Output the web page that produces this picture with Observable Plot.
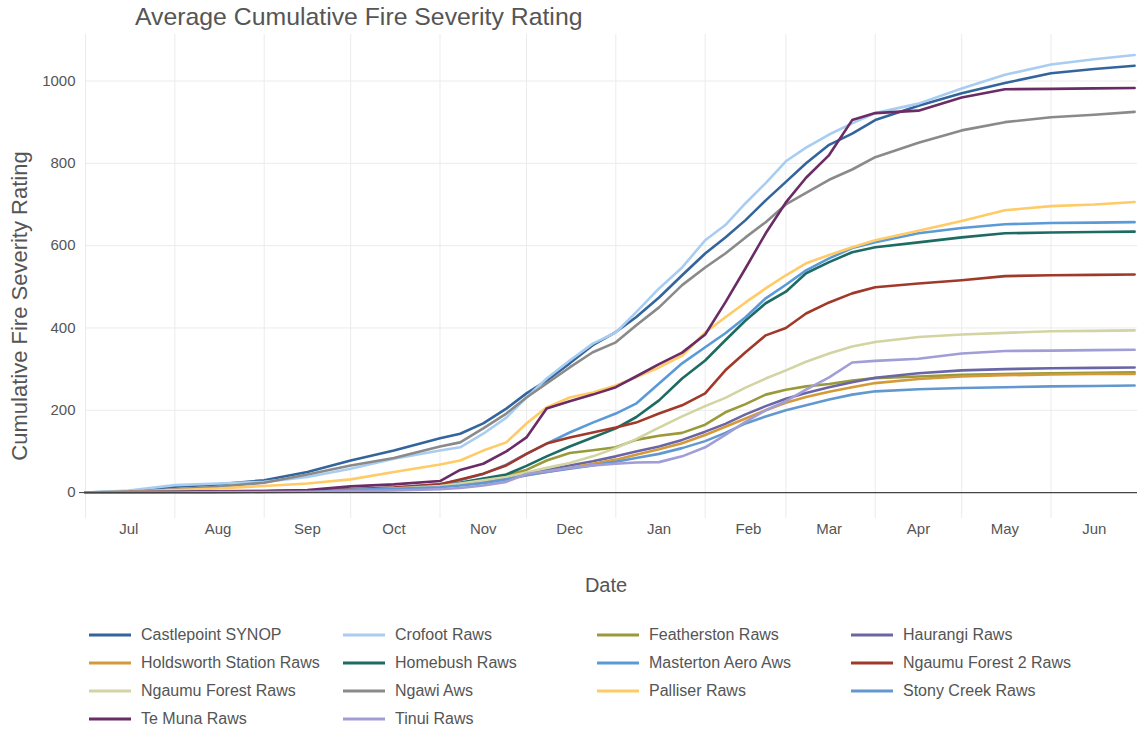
<!DOCTYPE html>
<html><head><meta charset="utf-8">
<script src="https://cdn.jsdelivr.net/npm/d3@7"></script>
<script src="https://cdn.jsdelivr.net/npm/@observablehq/plot@0.6"></script>
<style>
body{margin:0;background:#fff;font-family:"Liberation Sans",Arial,sans-serif;}
#wrap{position:relative;width:1137px;height:731px;overflow:hidden;}
#chart{position:absolute;left:0;top:0;}
#title{position:absolute;left:135px;top:5px;font-size:24.8px;color:#555;white-space:nowrap;line-height:1;}
#ytitle{position:absolute;left:20px;top:306px;transform:translate(-50%,-50%) rotate(-90deg);font-size:22px;color:#555;white-space:nowrap;line-height:1;}
#xtitle{position:absolute;left:606px;top:585px;transform:translate(-50%,-50%);font-size:20px;color:#555;white-space:nowrap;line-height:1;}
#legend{position:absolute;left:89px;top:621px;display:grid;grid-template-columns:repeat(4,254px);grid-auto-rows:28px;}
.item{display:flex;align-items:center;font-size:16px;color:#555;white-space:nowrap;}
.item svg{margin-right:10px;flex:none;}
</style></head><body>
<div id="wrap">
  <div id="chart"></div>
  <div id="title">Average Cumulative Fire Severity Rating</div>
  <div id="ytitle">Cumulative Fire Severity Rating</div>
  <div id="xtitle">Date</div>
  <div id="legend"></div>
</div>
<script>
const dates = ["2017-07-01","2017-07-16","2017-08-01","2017-08-16","2017-09-01","2017-09-16","2017-10-01","2017-10-16","2017-11-01","2017-11-08","2017-11-16","2017-11-24","2017-12-01","2017-12-08","2017-12-16","2017-12-24","2018-01-01","2018-01-08","2018-01-16","2018-01-24","2018-02-01","2018-02-08","2018-02-15","2018-02-22","2018-03-01","2018-03-08","2018-03-16","2018-03-24","2018-04-01","2018-04-16","2018-05-01","2018-05-16","2018-06-01","2018-06-16","2018-06-30"];

const stations = ["Castlepoint SYNOP","Crofoot Raws","Featherston Raws","Haurangi Raws","Holdsworth Station Raws","Homebush Raws","Masterton Aero Aws","Ngaumu Forest 2 Raws","Ngaumu Forest Raws","Ngawi Aws","Palliser Raws","Stony Creek Raws","Te Muna Raws","Tinui Raws"];
const colors = ["#33659c","#a9cdf0","#9a9a3a","#6a66a6","#d49a3a","#1d6b63","#5b9ad8","#a0392a","#d2d4a2","#8a8a8a","#ffcb66","#6298d0","#6b2b65","#a19dd7"];

const castlepoint = [0,4,14,20,30,50,78,102,132, 143,168,204, 241,272,314,358, 390,426,474,528, 581,620,662,710, 755,800,845,872, 905,940,970,995, 1019,1029,1037];
const crofoot = [0,5,18,22,26,38,58,82,102, 110,143,182, 231,277,321,362, 389,438,496,547, 613,650,703,752, 805,838,870,897, 922,945,982,1015, 1040,1053,1063];
const featherston = [0,0,1,2,3,4,6,10,18, 24,33,42, 55,78,96,103, 110,128,138,145, 165,195,215,238, 250,258,264,272, 278,282,286,288, 290,291,292];
const haurangi = [0,0,1,1,2,3,5,10,18, 22,29,37, 46,55,66,76, 88,100,112,128, 148,167,190,210, 228,242,256,268, 279,290,297,300, 302,303,304];
const holdsworth = [0,0,1,1,2,3,4,8,15, 19,25,33, 42,50,60,70, 80,92,105,120, 140,160,180,200, 218,232,245,256, 266,276,282,285, 287,288,288];
const homebush = [0,0,1,2,3,4,6,10,18, 24,34,44, 65,88,112,134, 156,183,224,277, 321,370,418,460, 488,533,560,584, 596,608,620,630, 632,633,634];
const masterton = [0,0,1,2,3,5,8,12,20, 30,45,68, 94,119,146,170, 192,216,265,314, 353,387,426,472, 505,540,569,594, 608,630,643,652, 655,656,657];
const ngaumu2 = [0,0,1,2,3,5,8,12,20, 32,46,66, 94,119,134,146, 158,170,192,212, 241,297,341,382, 400,435,462,484, 499,508,516,526, 528,529,530];
const ngaumu = [0,0,1,2,3,4,6,10,16, 22,30,38, 49,60,72,88, 108,130,158,185, 210,230,255,277, 297,318,338,355, 366,378,384,388, 392,393,394];
const ngawi = [0,2,8,14,24,44,66,84,112, 122,156,192, 231,265,304,341, 365,406,450,504, 547,581,620,657, 700,728,760,785, 815,850,880,900, 912,918,925];
const palliser = [0,2,6,10,16,22,32,50,68, 78,102,122, 168,207,231,243, 260,280,304,333, 389,426,462,496, 528,557,577,596, 613,636,660,686, 696,700,706];
const stonyCreek = [0,1,2,3,4,5,7,9,13, 17,23,32, 42,50,58,66, 75,84,94,108, 125,145,168,185, 200,212,226,238, 246,251,254,256, 258,259,260];
const teMuna = [0,1,2,3,4,6,15,20,28, 55,70,100, 134,204,222,238, 256,282,312,340, 384,462,545,630, 705,765,820,905, 922,928,960,980, 981,982,983];
const tinui = [0,0,0,1,1,2,3,5,8, 11,17,26, 45,52,60,66, 70,73,74,88, 110,140,172,200, 222,250,280,316, 320,325,338,344, 345,346,347];

const monthLabels = ["Jul","Aug","Sep","Oct","Nov","Dec","Jan","Feb","Mar","Apr","May","Jun"];
const yTicks = [0,200,400,600,800,1000];

const series = [castlepoint,crofoot,featherston,haurangi,holdsworth,homebush,masterton,ngaumu2,ngaumu,ngawi,palliser,stonyCreek,teMuna,tinui];
const rows = stations.flatMap((s,i)=>dates.map((d,j)=>({station:s,date:new Date(d),value:series[i][j]})));

const start = new Date(Date.UTC(2017,6,1)), end = new Date(Date.UTC(2018,6,1));
const monthStarts = d3.utcMonth.range(start, end);
const midMonths = monthStarts.map(d=>new Date(Date.UTC(d.getUTCFullYear(), d.getUTCMonth(), 16)));

const chart = Plot.plot({
  width:1137, height:560,
  marginTop:34, marginBottom:42, marginLeft:85, marginRight:0,
  style:{fontFamily:'"Liberation Sans", Arial, sans-serif', fontSize:"15px", color:"#555", background:"#fff"},
  x:{type:"utc", domain:[start,end]},
  y:{domain:[-63,1113]},
  color:{domain:stations, range:colors},
  marks:[
    Plot.ruleX(monthStarts,{stroke:"#ebebeb",strokeWidth:1}),
    Plot.ruleY(yTicks.filter(v=>v!==0),{stroke:"#ebebeb",strokeWidth:1}),
    Plot.line(rows,{x:"date",y:"value",z:"station",stroke:"station",strokeWidth:2.6,curve:"linear"}),
    Plot.ruleY([0],{stroke:"#444",strokeWidth:1.3}),
    Plot.axisX(midMonths,{tickSize:0,tickPadding:5,tickFormat:(d,i)=>monthLabels[i],fontSize:15}),
    Plot.axisY(yTicks,{tickSize:0,tickPadding:10,tickFormat:d=>String(d),fontSize:15,label:null}),
    Plot.axisY([0],{tickSize:6,tickPadding:0,tickFormat:()=>"",stroke:"#444",label:null})
  ]
});
document.getElementById("chart").appendChild(chart);

const legend = document.getElementById("legend");
stations.forEach((s,i)=>{
  const it = document.createElement("div");
  it.className = "item";
  it.innerHTML = `<svg width="42" height="6"><line x1="0" y1="3" x2="42" y2="3" stroke="${colors[i]}" stroke-width="3"/></svg><span>${s}</span>`;
  legend.appendChild(it);
});
</script>
</body></html>
